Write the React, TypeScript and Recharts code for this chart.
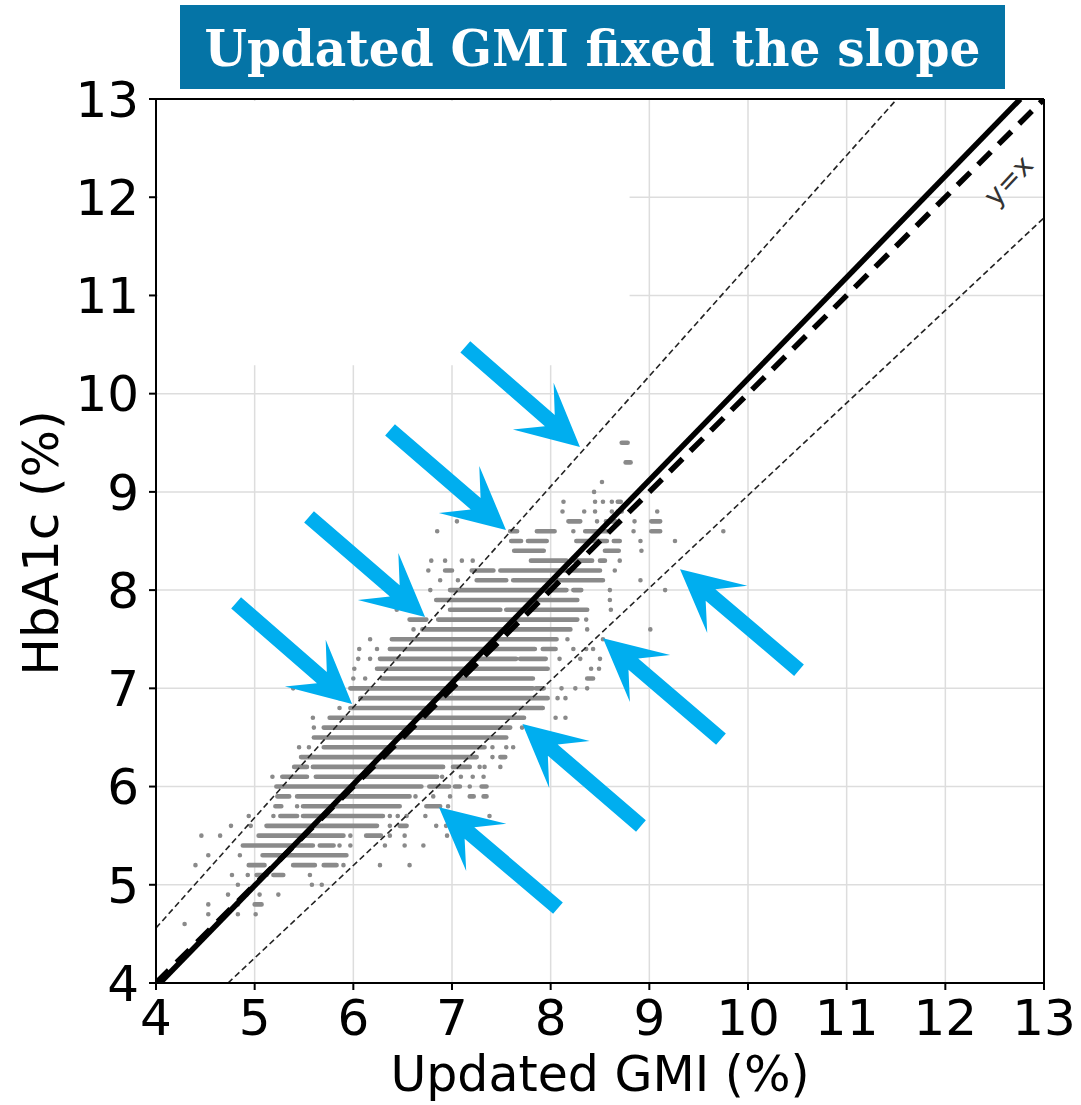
import React from 'react'
import {
  ComposedChart,
  XAxis,
  YAxis,
  CartesianGrid,
  Line,
  ReferenceLine,
  ReferenceArea,
  ReferenceDot,
} from 'recharts'

const axisTicks = [4, 5, 6, 7, 8, 9, 10, 11, 12, 13]

// each scatter row is one HbA1c level (reported to 0.1 %), with the GMI spans covered by dots
const hba1cLevels = [
  9.5, 9.3, 9.1, 9.0, 8.9, 8.8, 8.7, 8.6, 8.5, 8.4, 8.3, 8.2, 8.1, 8.0, 7.9, 7.8,
  7.7, 7.6, 7.5, 7.4, 7.3, 7.2, 7.1, 7.0, 6.9, 6.8, 6.7, 6.6, 6.5, 6.4, 6.3, 6.2,
  6.1, 6.0, 5.9, 5.8, 5.7, 5.6, 5.5, 5.4, 5.3, 5.2, 5.1, 5.0, 4.9, 4.8, 4.7, 4.6,
]

const gmiSpans: number[][][] = [
  [[8.72, 8.78]],
  [[8.76, 8.81]],
  [[8.52, 8.52]],
  [[8.44, 8.44]],
  [[8.13, 8.13], [8.45, 8.45], [8.53, 8.53], [8.62, 8.62], [8.68, 8.71]],
  [[8.12, 8.12], [8.34, 8.34], [8.45, 8.45], [8.62, 8.62], [8.68, 8.72], [9.08, 9.08]],
  [[7.05, 7.05], [8.18, 8.3], [8.47, 8.47], [8.56, 8.66], [8.85, 8.85], [9.02, 9.11]],
  [[6.85, 6.85], [7.59, 7.66], [7.86, 8.04], [8.23, 8.23], [8.35, 8.6], [8.84, 8.84], [9.02, 9.11], [9.75, 9.75]],
  [[7.6, 7.7], [7.77, 7.96], [8.26, 8.57], [8.64, 8.7], [8.91, 8.91], [9.26, 9.26]],
  [[7.63, 7.93], [8.55, 8.69], [8.92, 8.92]],
  [[6.79, 6.79], [6.93, 6.93], [7.1, 7.1], [7.21, 7.21], [7.8, 8.16], [8.24, 8.42], [8.5, 8.55], [8.7, 8.7]],
  [[6.76, 6.76], [6.93, 7.0], [7.2, 7.42], [7.49, 8.5], [8.65, 8.65]],
  [[6.88, 6.88], [7.06, 7.06], [7.25, 7.55], [7.62, 8.53], [8.91, 8.91]],
  [[6.78, 6.78], [6.98, 8.16], [8.23, 8.31], [8.6, 8.6], [9.16, 9.16]],
  [[6.84, 8.27], [8.6, 8.6]],
  [[6.44, 6.44], [6.98, 7.49], [7.55, 8.37], [8.61, 8.61]],
  [[6.57, 6.74], [6.86, 8.27], [8.36, 8.36]],
  [[6.61, 6.61], [6.7, 8.2], [8.37, 8.37], [9.01, 9.01]],
  [[6.17, 6.17], [6.39, 8.06], [8.17, 8.17], [8.53, 8.53]],
  [[6.06, 6.06], [6.24, 6.24], [6.37, 7.84], [7.92, 8.05], [8.23, 8.23], [8.36, 8.36], [8.43, 8.43]],
  [[6.05, 6.05], [6.17, 6.17], [6.27, 7.65], [7.69, 7.95], [8.09, 8.09], [8.3, 8.3], [8.5, 8.5]],
  [[6.01, 6.01], [6.24, 7.97], [8.41, 8.41], [8.49, 8.49]],
  [[6.0, 6.0], [6.12, 6.12], [6.29, 7.82], [8.37, 8.43]],
  [[5.39, 5.39], [5.97, 7.82], [7.85, 7.93], [8.11, 8.11], [8.25, 8.25], [8.37, 8.37]],
  [[5.86, 5.86], [6.07, 7.97], [8.07, 8.07], [8.15, 8.15]],
  [[5.86, 5.86], [5.97, 7.92]],
  [[5.59, 5.59], [5.76, 7.73], [8.05, 8.05], [8.15, 8.15]],
  [[5.6, 5.6], [5.7, 7.59], [7.71, 7.71]],
  [[5.6, 7.55]],
  [[5.45, 5.45], [5.55, 5.55], [5.7, 7.33], [7.41, 7.41], [7.55, 7.55], [7.62, 7.62]],
  [[5.47, 7.25], [7.41, 7.41], [7.49, 7.54]],
  [[5.4, 5.53], [5.59, 6.91], [7.01, 7.18], [7.28, 7.28], [7.33, 7.33], [7.49, 7.49]],
  [[5.18, 5.18], [5.28, 5.53], [5.62, 6.85], [6.9, 6.9], [7.09, 7.09], [7.21, 7.21], [7.32, 7.32]],
  [[5.22, 6.69], [6.77, 6.97], [7.03, 7.08], [7.18, 7.18], [7.3, 7.35]],
  [[5.23, 5.35], [5.43, 6.57], [6.63, 6.63], [6.81, 6.81], [6.98, 6.98], [7.18, 7.22], [7.32, 7.35]],
  [[5.21, 5.27], [5.43, 5.43], [5.49, 6.47], [6.74, 6.88], [6.96, 6.96]],
  [[4.94, 4.94], [5.19, 5.19], [5.26, 5.43], [5.49, 6.3], [6.37, 6.37], [6.45, 6.45], [6.54, 6.54], [6.73, 6.73], [7.38, 7.38]],
  [[4.76, 4.76], [4.96, 4.96], [5.12, 6.24], [6.37, 6.37], [6.47, 6.54], [6.84, 6.84], [6.94, 6.94]],
  [[4.46, 4.46], [4.65, 4.65], [5.04, 5.9], [5.97, 5.97], [6.13, 6.28], [6.37, 6.37], [6.52, 6.52], [6.95, 6.95]],
  [[4.88, 5.59], [5.66, 5.8], [5.86, 5.86], [5.97, 5.97], [6.32, 6.32], [6.52, 6.52], [6.71, 6.71]],
  [[4.53, 4.53], [4.85, 4.85], [5.08, 5.93]],
  [[4.4, 4.4], [4.94, 5.1], [5.39, 5.61], [5.7, 5.83], [5.9, 5.9], [6.27, 6.27], [6.57, 6.57]],
  [[4.77, 4.77], [4.93, 4.93], [5.02, 5.12], [5.19, 5.29], [5.56, 5.56]],
  [[4.83, 4.83], [5.0, 5.0], [5.58, 5.58], [5.68, 5.68]],
  [[4.73, 4.73], [4.92, 4.92], [5.05, 5.05], [5.24, 5.24]],
  [[4.53, 4.53], [4.83, 4.83], [5.0, 5.07]],
  [[4.53, 4.53], [4.83, 4.83], [5.01, 5.01]],
  [[4.29, 4.29]],
]

// fitted line, identity line and the two bounds (end points)
const regressionGmi = [4.04, 12.76]
const regressionHba1c = [4, 13]
const identityGmi = [4, 13]
const identityHba1c = [4, 13]
const upperGmi = [4, 11.51]
const upperHba1c = [4.56, 13]
const lowerGmi = [4.73, 13]
const lowerHba1c = [4, 11.79]

// annotation arrows, tail -> tip
const arrowTailGmi = [7.135, 6.372, 5.551, 4.812, 10.517, 9.726, 8.915, 8.074]
const arrowTailHba1c = [10.476, 9.631, 8.745, 7.87, 7.185, 6.483, 5.598, 4.762]
const arrowTipGmi = [8.297, 7.547, 6.727, 5.987, 9.311, 8.53, 7.714, 6.868]
const arrowTipHba1c = [9.458, 8.613, 7.727, 6.841, 8.213, 7.511, 6.637, 5.79]

const DOT = '#8a8a8a'
const ARROW = '#00AEEF'
const SANS = '"DejaVu Sans", sans-serif'

const toPoints = (xs: number[], ys: number[]) => xs.map((x, i) => ({ gmi: x, hba1c: ys[i] }))

const rowData = hba1cLevels.map((level, i) =>
  gmiSpans[i].flatMap(([a, b]) => [
    { gmi: a, hba1c: level },
    { gmi: b, hba1c: level },
    { gmi: b, hba1c: null },
  ])
)

function ArrowShape(props: any) {
  const { x1, y1, x2, y2 } = props
  const dx = x2 - x1
  const dy = y2 - y1
  const len = Math.hypot(dx, dy)
  const ux = dx / len
  const uy = dy / len
  const nx = -uy
  const ny = ux
  const headLen = 62
  const headHalf = 31
  const notch = 40
  const shaftHalf = 7.5
  const pt = (a: number, b: number) => `${x1 + ux * a + nx * b},${y1 + uy * a + ny * b}`
  const pts = [
    pt(0, -shaftHalf),
    pt(len - notch, -shaftHalf),
    pt(len - headLen, -headHalf),
    pt(len, 0),
    pt(len - headLen, headHalf),
    pt(len - notch, shaftHalf),
    pt(0, shaftHalf),
  ]
  return <polygon points={pts.join(' ')} fill={ARROW} />
}

export default function App() {
  return (
    <div style={{ position: 'absolute', left: 0, top: 0, width: 1081, height: 1105, background: '#fff' }}>
      <ComposedChart
        width={1081}
        height={1105}
        margin={{ top: 99, right: 37, left: 0, bottom: 0 }}
      >
        <CartesianGrid stroke="#dddddd" strokeWidth={1.5} />
        <ReferenceArea x1={4.02} x2={8.8} y1={10.29} y2={12.98} fill="#ffffff" fillOpacity={1} stroke="none" />
        <XAxis
          type="number"
          dataKey="gmi"
          domain={[4, 13]}
          ticks={axisTicks}
          allowDataOverflow
          height={122}
          tickSize={7}
          tickMargin={9}
          stroke="#000"
          axisLine={{ stroke: '#000', strokeWidth: 2 }}
          tickLine={{ stroke: '#000', strokeWidth: 2 }}
          tick={{ fill: '#000', fontSize: 50, fontFamily: SANS }}
        />
        <YAxis
          type="number"
          domain={[4, 13]}
          ticks={axisTicks}
          allowDataOverflow
          width={156}
          tickSize={7}
          tickMargin={10}
          axisLine={{ stroke: '#000', strokeWidth: 2 }}
          tickLine={{ stroke: '#000', strokeWidth: 2 }}
          tick={{ fill: '#000', fontSize: 50, fontFamily: SANS }}
        />
        <ReferenceLine y={13} stroke="#000" strokeWidth={2} />
        <ReferenceLine x={13} stroke="#000" strokeWidth={2} />

        {rowData.map((data, i) => (
          <Line
            key={'row' + i}
            data={data}
            dataKey="hba1c"
            type="linear"
            stroke={DOT}
            strokeWidth={4.6}
            strokeLinecap="round"
            dot={false}
            activeDot={false}
            isAnimationActive={false}
          />
        ))}

        <Line data={toPoints(upperGmi, upperHba1c)} dataKey="hba1c" type="linear" stroke="#222" strokeWidth={1.6} strokeDasharray="6 3.5" dot={false} activeDot={false} isAnimationActive={false} />
        <Line data={toPoints(lowerGmi, lowerHba1c)} dataKey="hba1c" type="linear" stroke="#222" strokeWidth={1.6} strokeDasharray="6 3.5" dot={false} activeDot={false} isAnimationActive={false} />
        <Line data={toPoints(identityGmi, identityHba1c)} dataKey="hba1c" type="linear" stroke="#000" strokeWidth={5.5} strokeDasharray="18 11" dot={false} activeDot={false} isAnimationActive={false} />
        <Line data={toPoints(regressionGmi, regressionHba1c)} dataKey="hba1c" type="linear" stroke="#000" strokeWidth={5.5} dot={false} activeDot={false} isAnimationActive={false} />

        {arrowTailGmi.map((g, i) => (
          <ReferenceLine
            key={'arrow' + i}
            segment={[
              { x: g, y: arrowTailHba1c[i] },
              { x: arrowTipGmi[i], y: arrowTipHba1c[i] },
            ]}
            ifOverflow="visible"
            zIndex={1500}
            shape={(p: any) => <ArrowShape {...p} />}
          />
        ))}

        <ReferenceDot
          x={12.64}
          y={12.17}
          r={0}
          ifOverflow="visible"
          zIndex={1600}
          shape={(p: any) => (
            <text
              x={p.cx}
              y={p.cy}
              transform={`rotate(-47 ${p.cx} ${p.cy})`}
              textAnchor="middle"
              dominantBaseline="central"
              fontSize={28}
              fontFamily={SANS}
              fill="#333"
            >
              y=x
            </text>
          )}
        />
      </ComposedChart>

      <svg
        width={1081}
        height={1105}
        style={{ position: 'absolute', left: 0, top: 0, pointerEvents: 'none' }}
      >
        <rect x={180} y={5} width={825} height={84} fill="#0574a6" />
        <text
          x={592.5}
          y={66}
          textAnchor="middle"
          fontFamily='"DejaVu Serif", serif'
          fontWeight="bold"
          fontSize={51}
          fill="#fff"
          textLength={776}
          lengthAdjust="spacingAndGlyphs"
        >
          Updated GMI fixed the slope
        </text>
        <text x={600} y={1091} textAnchor="middle" fontFamily={SANS} fontSize={49} fill="#000">
          Updated GMI (%)
        </text>
        <text
          transform="translate(58 543) rotate(-90)"
          textAnchor="middle"
          fontFamily={SANS}
          fontSize={50}
          fill="#000"
        >
          HbA1c (%)
        </text>
      </svg>
    </div>
  )
}
